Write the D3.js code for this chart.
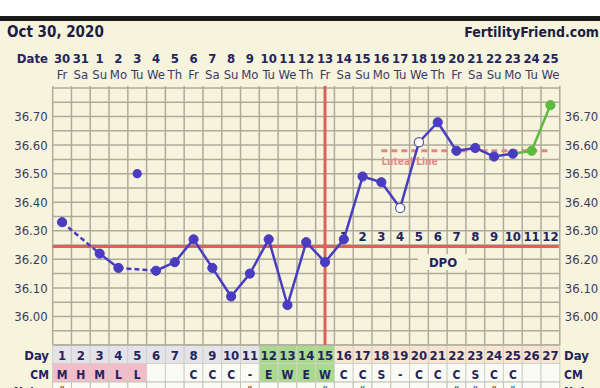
<!DOCTYPE html>
<html><head><meta charset="utf-8">
<script src="https://cdn.jsdelivr.net/npm/d3@7/dist/d3.min.js"></script>
<style>
body{margin:0;background:#fff;overflow:hidden;}
svg{display:block;}
text{font-family:"DejaVu Sans Condensed","DejaVu Sans",sans-serif;}
</style></head><body>
<svg id="c" width="600" height="388"></svg>
<script>
// ---- data ----
const dates = ["30","31","1","2","3","4","5","6","7","8","9","10","11","12","13","14","15","16","17","18","19","20","21","22","23","24","25"];
const weekdays = ["Fr","Sa","Su","Mo","Tu","We","Th","Fr","Sa","Su","Mo","Tu","We","Th","Fr","Sa","Su","Mo","Tu","We","Th","Fr","Sa","Su","Mo","Tu","We"];
const cycleDays = [1,2,3,4,5,6,7,8,9,10,11,12,13,14,15,16,17,18,19,20,21,22,23,24,25,26,27];
const temps = [36.33,null,36.22,36.17,null,36.16,36.19,36.27,36.17,36.07,36.15,36.27,36.04,36.26,36.19,36.27,36.49,36.47,36.38,36.61,36.68,36.58,36.59,36.56,36.57,36.58,36.74];
const discardedDays = [5];
const discardedTemps = [36.50];
const openDays = [19,20];
const greenDays = [26,27];
const cmValues = ["M","H","M","L","L","","","C","C","C","-","E","W","E","W","C","C","S","-","C","C","C","S","C","C","",""];
const cmPink = [1,2,3,4,5];
const fertileDays = [12,13,14,15];
const lutealDays = [16,17,18,19,20,21,22,23,24,25,26,27];
const notesDays = [1,11,15,17,22,23,24,25];
const dpoValues = [1,2,3,4,5,6,7,8,9,10,11,12];
const coverline = 36.245;
const ovulationDay = 15;
const lutealFrom = 18, lutealTo = 27, lutealTemp = 36.58;
const tempTicks = [36.00,36.10,36.20,36.30,36.40,36.50,36.60,36.70];
const gridTicks = d3.range(0,19).map(i => +(35.90 + i*0.05).toFixed(2));

// ---- layout ----
const svg = d3.select("#c");
const navy = "#24245c";
const cream = "#f7f4de";
const gridC = "#aeab9b";
const redC = "#d9625b";
const blue = "#4a3cc0";
const green = "#5cbb3c";
const X0 = 52.7, X1 = 559.8, YT = 88, YB = 345;

const x = d3.scaleBand().domain(cycleDays).range([X0, X1]).padding(0);
const cx = d => x(d) + x.bandwidth()/2;
const y = d3.scaleLinear().domain([35.90, 36.80]).range([YB, YT]);

svg.append("rect").attr("width",600).attr("height",388).attr("fill","#fff");
svg.append("rect").attr("x",0).attr("y",21).attr("width",600).attr("height",367).attr("fill",cream);
svg.append("rect").attr("x",0).attr("y",16).attr("width",600).attr("height",5).attr("fill","#1b1b1b");

svg.append("text").attr("x",7).attr("y",37).attr("font-size",15).attr("font-weight","bold").attr("fill","#1c1c44").text("Oct 30, 2020");
svg.append("text").attr("x",599).attr("y",37).attr("text-anchor","end").attr("font-size",14).attr("font-weight","bold").attr("fill","#1c1c44").text("FertilityFriend.com");

// header rows
svg.append("text").attr("x",48).attr("y",63).attr("text-anchor","end").attr("font-size",13).attr("font-weight","bold").attr("fill",navy).text("Date");
svg.selectAll(".dt").data(cycleDays).join("text").attr("class","dt")
  .attr("x",d=>cx(d)).attr("y",63).attr("text-anchor","middle").attr("font-size",13).attr("font-weight","bold").attr("fill",navy)
  .text((d,i)=>dates[i]);
svg.selectAll(".wd").data(cycleDays).join("text").attr("class","wd")
  .attr("x",d=>cx(d)).attr("y",79).attr("text-anchor","middle").attr("font-size",13).attr("fill","#3a3a66")
  .text((d,i)=>weekdays[i]);

// grid
const g = svg.append("g");
g.selectAll(".hg").data(gridTicks).join("line").attr("class","hg")
  .attr("x1",X0).attr("x2",X1).attr("y1",d=>y(d)).attr("y2",d=>y(d))
  .attr("stroke",gridC).attr("stroke-width",1.5);
g.selectAll(".vg").data(cycleDays.concat([28])).join("line").attr("class","vg")
  .attr("x1",d=> d<=27 ? x(d) : X1).attr("x2",d=> d<=27 ? x(d) : X1)
  .attr("y1",86).attr("y2",YB)
  .attr("stroke",gridC).attr("stroke-width",1.5);

// temperature axes
const fmt = d3.format(".2f");
const axL = svg.append("g").attr("transform",`translate(${X0},0)`)
  .call(d3.axisLeft(y).tickValues(tempTicks).tickFormat(fmt).tickSize(0).tickPadding(5));
const axR = svg.append("g").attr("transform",`translate(${X1},0)`)
  .call(d3.axisRight(y).tickValues(tempTicks).tickFormat(fmt).tickSize(0).tickPadding(5));
[axL,axR].forEach(a=>{
  a.select(".domain").remove();
  a.selectAll("text").attr("font-size",13).attr("fill","#3a3a5e").attr("font-family","DejaVu Sans, sans-serif");
});

// bottom rows
const rowTop = YB, rowH1 = 18.5, rowH2 = 18.5, rowH3 = 18;
function dayFill(d){ if(fertileDays.includes(d)) return "#a8d98c"; if(lutealDays.includes(d)) return "#f8e5cf"; return "#e4e3ea"; }
function cmFill(d){ if(fertileDays.includes(d)) return "#a8d98c"; if(cmPink.includes(d)) return "#f2bccb"; return "#fbfbf5"; }
svg.selectAll(".dr").data(cycleDays).join("rect").attr("class","dr")
  .attr("x",d=>x(d)).attr("y",rowTop).attr("width",x.bandwidth()).attr("height",rowH1)
  .attr("fill",dayFill).attr("stroke","#d2d0c4").attr("stroke-width",1);
svg.selectAll(".cr").data(cycleDays).join("rect").attr("class","cr")
  .attr("x",d=>x(d)).attr("y",rowTop+rowH1).attr("width",x.bandwidth()).attr("height",rowH2)
  .attr("fill",cmFill).attr("stroke","#d2d0c4").attr("stroke-width",1);
svg.selectAll(".nr").data(cycleDays).join("rect").attr("class","nr")
  .attr("x",d=>x(d)).attr("y",rowTop+rowH1+rowH2).attr("width",x.bandwidth()).attr("height",rowH3)
  .attr("fill","#fbfbf5").attr("stroke","#c4c2b4").attr("stroke-width",1);
svg.append("line").attr("x1",X0).attr("x2",X1).attr("y1",YB).attr("y2",YB).attr("stroke",gridC).attr("stroke-width",1.5);

svg.selectAll(".dn").data(cycleDays).join("text").attr("class","dn")
  .attr("x",d=>cx(d)).attr("y",rowTop+15).attr("text-anchor","middle").attr("font-size",13).attr("font-weight","bold").attr("fill",navy)
  .text(d=>d);
svg.selectAll(".cmt").data(cycleDays).join("text").attr("class","cmt")
  .attr("x",d=>cx(d)).attr("y",rowTop+rowH1+15).attr("text-anchor","middle").attr("font-size",12).attr("font-weight","bold").attr("fill",navy)
  .text((d,i)=>cmValues[i]);
svg.selectAll(".nt").data(notesDays).join("text").attr("class","nt")
  .attr("x",d=>cx(d)).attr("y",rowTop+rowH1+rowH2+13).attr("text-anchor","middle").attr("font-size",12).attr("fill","#555")
  .text("\u201D");

[["Day",rowTop+15,13],["CM",rowTop+rowH1+15,12],["Notes",rowTop+rowH1+rowH2+14,12]].forEach(([t,yy,fs])=>{
  svg.append("text").attr("x",49).attr("y",yy).attr("text-anchor","end").attr("font-size",fs).attr("font-weight","bold").attr("fill",navy).text(t);
  svg.append("text").attr("x",564).attr("y",yy).attr("text-anchor","start").attr("font-size",fs).attr("font-weight","bold").attr("fill",navy).text(t);
});

// coverline, ovulation line
svg.append("line").attr("x1",X0).attr("x2",X1-1).attr("y1",y(coverline)).attr("y2",y(coverline))
  .attr("stroke",redC).attr("stroke-width",3);
svg.append("line").attr("x1",cx(ovulationDay)).attr("x2",cx(ovulationDay)).attr("y1",86).attr("y2",YB)
  .attr("stroke",redC).attr("stroke-width",3);

// luteal line
svg.append("line").attr("x1",cx(lutealFrom)).attr("x2",cx(lutealTo)).attr("y1",y(lutealTemp)).attr("y2",y(lutealTemp))
  .attr("stroke","#e58580").attr("stroke-width",3).attr("stroke-dasharray","6,4");
svg.append("text").attr("x",cx(lutealFrom)).attr("y",y(lutealTemp)+14).attr("font-size",10).attr("font-weight","bold")
  .attr("fill","#e88a86").text("Luteal Line");

// DPO
svg.selectAll(".dpo").data(dpoValues).join("text").attr("class","dpo")
  .attr("x",(d,i)=>cx(lutealDays[i])).attr("y",241).attr("text-anchor","middle").attr("font-size",13).attr("font-weight","bold").attr("fill",navy)
  .text(d=>d);
svg.append("rect").attr("x",418).attr("y",254).attr("width",50).attr("height",16).attr("fill",cream);
svg.append("text").attr("x",443).attr("y",267).attr("text-anchor","middle").attr("font-size",13).attr("font-weight","bold").attr("fill",navy).text("DPO");

// temperature line
const pts = cycleDays.map((d,i)=>({day:d,temp:temps[i]})).filter(p=>p.temp!==null);
const segs = [];
for(let i=1;i<pts.length;i++){
  const a=pts[i-1], b=pts[i];
  segs.push({a,b,dashed:(b.day-a.day)>1,green:greenDays.includes(b.day)});
}
svg.selectAll(".seg").data(segs).join("line").attr("class","seg")
  .attr("x1",s=>cx(s.a.day)).attr("y1",s=>y(s.a.temp)).attr("x2",s=>cx(s.b.day)).attr("y2",s=>y(s.b.temp))
  .attr("stroke",s=>s.green?green:blue).attr("stroke-width",2.5)
  .attr("stroke-dasharray",s=>s.dashed?"5,3":null);

svg.selectAll(".pt").data(pts).join("circle").attr("class","pt")
  .attr("cx",p=>cx(p.day)).attr("cy",p=>y(p.temp)).attr("r",4.6)
  .attr("fill",p=>openDays.includes(p.day)?"#fff":(greenDays.includes(p.day)?green:blue))
  .attr("stroke",p=>openDays.includes(p.day)?"#5a55a0":(greenDays.includes(p.day)?green:blue))
  .attr("stroke-width",p=>openDays.includes(p.day)?1.2:1);
svg.selectAll(".disc").data(discardedDays).join("circle").attr("class","disc")
  .attr("cx",d=>cx(d)).attr("cy",(d,i)=>y(discardedTemps[i])).attr("r",4.6).attr("fill",blue);
</script>
</body></html>
